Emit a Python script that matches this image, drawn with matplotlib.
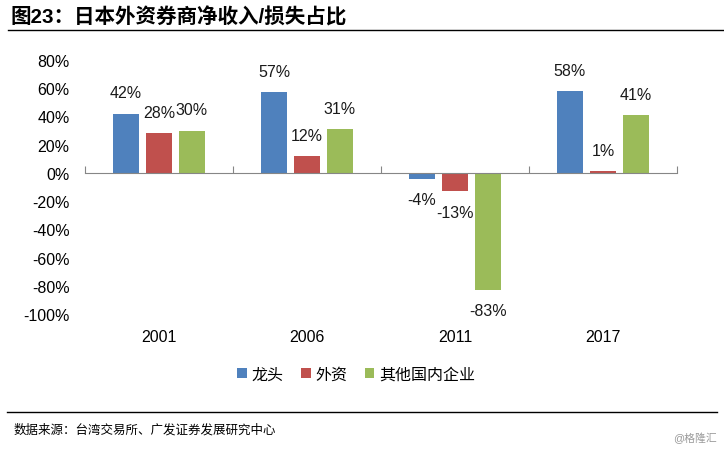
import matplotlib
matplotlib.use('Agg')
import matplotlib.pyplot as plt
import numpy as np

plt.rcParams['font.family'] = ['Liberation Sans', 'Noto Sans CJK SC', 'DejaVu Sans']

years = ['2001', '2006', '2011', '2017']
series = ['龙头', '外资', '其他国内企业']
leaders = [42, 57, -4, 58]
foreign = [28, 12, -13, 1]
domestic = [30, 31, -83, 41]
colors = ['#4F81BD', '#C0504D', '#9BBB59']
yticks = [80, 60, 40, 20, 0, -20, -40, -60, -80, -100]

fig = plt.figure(figsize=(7.24, 4.52), dpi=100)
ax = fig.add_axes([85 / 724, 1 - 315 / 452, (677 - 85) / 724, (315 - 61) / 452])

x = np.arange(len(years))
width = 0.176
step = 0.223
for i, (vals, name) in enumerate(zip([leaders, foreign, domestic], series)):
    pos = x + (i - 1) * step
    ax.bar(pos, vals, width, color=colors[i], label=name, zorder=2)
    for px, v in zip(pos, vals):
        off = 15 if v >= 0 else -15
        ax.annotate('%d%%' % v, (px, v), xytext=(0, off), textcoords='offset points',
                    ha='center', va='center', fontsize=11.5, color='#1a1a1a')

ax.set_xlim(-0.5, len(years) - 0.5)
ax.set_ylim(-100, 80)
ax.set_yticks(yticks)
ax.set_yticklabels(['%d%%' % t for t in yticks], fontsize=11.5)
ax.tick_params(axis='y', length=0, pad=11)

for s in ['top', 'right', 'left']:
    ax.spines[s].set_visible(False)
ax.spines['bottom'].set_position(('data', 0))
ax.spines['bottom'].set_color('#868686')
ax.spines['bottom'].set_zorder(3)
ax.set_xticks(np.arange(len(years) + 1) - 0.5)
ax.set_xticklabels([])
ax.tick_params(axis='x', direction='in', length=5, color='#868686')

sec = ax.secondary_xaxis(0)
sec.set_xticks(x)
sec.set_xticklabels(years, fontsize=11.5)
sec.tick_params(length=0, pad=10.5)
sec.spines['bottom'].set_visible(False)

ax.legend(loc='upper center', bbox_to_anchor=(0.458, -0.15), ncol=3, frameon=False,
          fontsize=11.5, handlelength=0.6, handleheight=0.6, handletextpad=0.3,
          columnspacing=1.1)

fig.text(10 / 724, 1 - 17 / 452, '图23：日本外资券商净收入/损失占比', fontsize=14.8,
         fontweight='bold', va='center', ha='left')
fig.add_artist(plt.Line2D([8 / 724, 1], [1 - 31 / 452] * 2, color='black', lw=1))
fig.add_artist(plt.Line2D([7 / 724, 717 / 724], [1 - 413 / 452] * 2, color='black', lw=1))
fig.text(14 / 724, 1 - 430 / 452, '数据来源：台湾交易所、广发证券发展研究中心', fontsize=9,
         va='center', ha='left')
fig.text(717 / 724, 1 - 438 / 452, '@格隆汇', fontsize=7.8, color='#999999',
         va='center', ha='right')

fig.savefig('out.png', dpi=100)
